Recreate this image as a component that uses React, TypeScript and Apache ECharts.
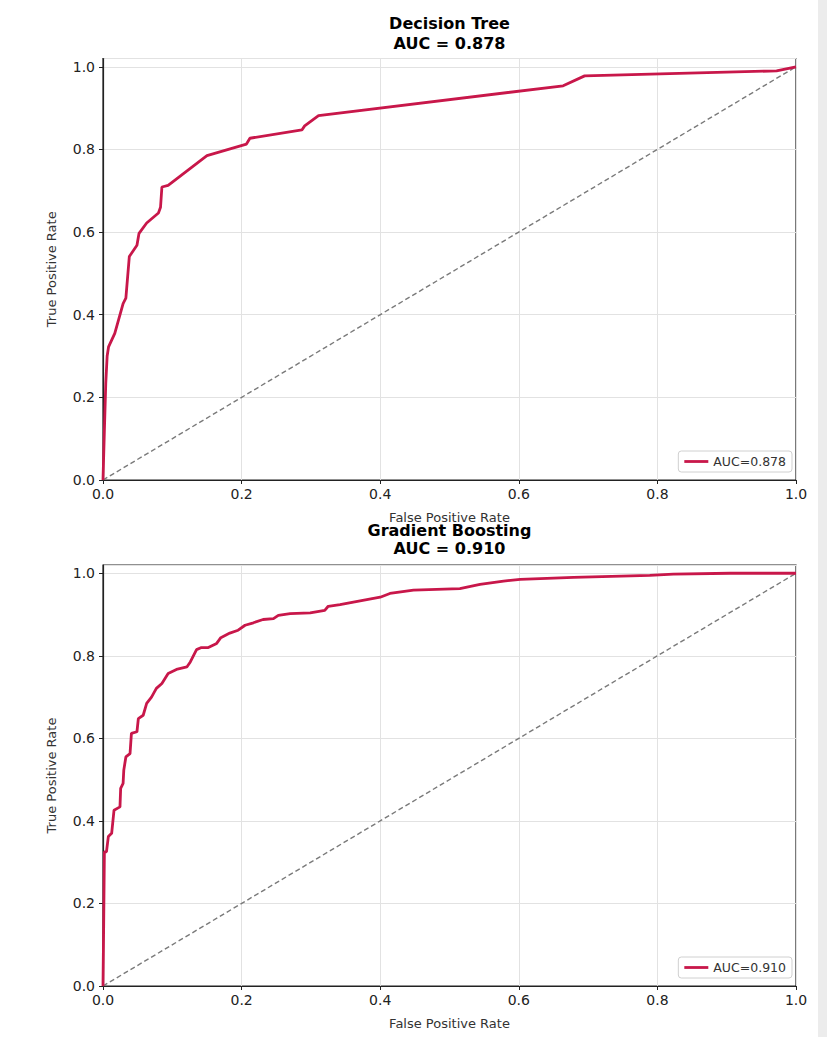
import React, { useEffect, useRef } from "react";
import * as echarts from "echarts";

const xTicks = [0, 0.2, 0.4, 0.6, 0.8, 1.0];

const dtFpr = [0, 0.002, 0.004, 0.006, 0.008, 0.017, 0.029, 0.033, 0.038, 0.049, 0.052, 0.063, 0.080, 0.083, 0.085, 0.094, 0.150, 0.207, 0.212, 0.287, 0.291, 0.311, 0.664, 0.695, 0.972, 1.0];
const dtTpr = [0, 0.12, 0.234, 0.30, 0.322, 0.355, 0.427, 0.44, 0.541, 0.568, 0.597, 0.622, 0.646, 0.66, 0.709, 0.713, 0.785, 0.813, 0.827, 0.847, 0.857, 0.882, 0.954, 0.978, 0.990, 1.0];

const gbFpr = [0, 0.001, 0.002, 0.005, 0.0077, 0.0125, 0.0159, 0.0245, 0.0255, 0.029, 0.030, 0.033, 0.039, 0.041, 0.049, 0.051, 0.058, 0.063, 0.070, 0.077, 0.085, 0.094, 0.106, 0.121, 0.126, 0.135, 0.142, 0.152, 0.164, 0.170, 0.183, 0.195, 0.205, 0.217, 0.231, 0.246, 0.253, 0.270, 0.299, 0.320, 0.325, 0.342, 0.40, 0.414, 0.448, 0.515, 0.544, 0.578, 0.602, 0.679, 0.789, 0.823, 0.905, 1.0];
const gbTpr = [0, 0.152, 0.325, 0.325, 0.362, 0.37, 0.426, 0.434, 0.479, 0.491, 0.523, 0.555, 0.563, 0.612, 0.616, 0.648, 0.656, 0.685, 0.700, 0.721, 0.733, 0.757, 0.767, 0.773, 0.785, 0.815, 0.82, 0.82, 0.83, 0.844, 0.855, 0.862, 0.874, 0.880, 0.888, 0.890, 0.898, 0.902, 0.904, 0.910, 0.920, 0.924, 0.942, 0.951, 0.959, 0.963, 0.973, 0.981, 0.985, 0.99, 0.995, 0.998, 1.0, 1.0];

const diagX = [0, 1];
const diagY = [0, 1];

const models = ["Decision Tree", "Gradient Boosting"];
const aucs = ["0.878", "0.910"];

const CURVE = "#C8174A";
const FONT = "DejaVu Sans";

export default function App() {
  const ref = useRef<HTMLDivElement>(null);
  useEffect(() => {
    document.body.style.margin = "0";
    const chart = echarts.init(ref.current!, null, { renderer: "svg" });
    const zip = (a: number[], b: number[]) => a.map((v, i) => [v, b[i]]);
    const grids = [
      { left: 103, right: 31, top: 58.5, height: 421.5 },
      { left: 103, right: 31, top: 565, height: 421 },
    ];
    const xAxis = grids.map((_, i) => ({
      type: "value",
      gridIndex: i,
      min: 0,
      max: 1,
      interval: 0.2,
      name: "False Positive Rate",
      nameLocation: "middle",
      nameGap: 31,
      nameTextStyle: { fontFamily: FONT, fontSize: 13, color: "#333" },
      axisLine: { show: true, lineStyle: { color: "#222", width: 1.2 } },
      axisTick: { show: true, inside: false, length: 4, lineStyle: { color: "#222" } },
      axisLabel: {
        fontFamily: FONT,
        fontSize: 14,
        color: "#222",
        margin: 7,
        formatter: (v: number) => v.toFixed(1),
      },
      splitLine: { show: true, lineStyle: { color: "#e2e2e2", width: 1 } },
    }));
    const yAxis = grids.map((_, i) => ({
      type: "value",
      gridIndex: i,
      min: 0,
      max: 1.02,
      interval: 0.2,
      name: "True Positive Rate",
      nameLocation: "middle",
      nameGap: 45,
      nameTextStyle: { fontFamily: FONT, fontSize: 13, color: "#333" },
      axisLine: { show: true, lineStyle: { color: "#222", width: 1.2 } },
      axisTick: { show: true, inside: false, length: 4, lineStyle: { color: "#222" } },
      axisLabel: {
        fontFamily: FONT,
        fontSize: 14,
        color: "#222",
        margin: 8,
        showMaxLabel: false,
        formatter: (v: number) => v.toFixed(1),
      },
      splitLine: { show: true, lineStyle: { color: "#e2e2e2", width: 1 } },
    }));
    const curves = [zip(dtFpr, dtTpr), zip(gbFpr, gbTpr)];
    const series: any[] = [];
    curves.forEach((d, i) => {
      series.push({
        type: "line",
        name: "diag" + i,
        xAxisIndex: i,
        yAxisIndex: i,
        data: zip(diagX, diagY),
        symbol: "none",
        lineStyle: { color: "#7a7a7a", width: 1.4, type: [5, 3] },
        silent: true,
      });
      series.push({
        type: "line",
        name: "AUC=" + aucs[i],
        xAxisIndex: i,
        yAxisIndex: i,
        data: d,
        symbol: "none",
        color: CURVE,
        lineStyle: { color: CURVE, width: 2.8 },
      });
    });
    const legends = [451, 957].map((top, i) => ({
      data: [{ name: "AUC=" + aucs[i], icon: "rect" }],
      right: 35,
      top,
      orient: "vertical",
      itemWidth: 24,
      itemHeight: 2.8,
      itemGap: 4,
      padding: [4, 6, 4, 6],
      borderColor: "#d0d0d0",
      borderWidth: 1,
      borderRadius: 3,
      backgroundColor: "rgba(255,255,255,0.85)",
      textStyle: { fontFamily: FONT, fontSize: 12.5, color: "#333" },
      selectedMode: false,
    }));
    const titleY = [[23, 43], [530, 548]];
    const graphic: any[] = [
      { type: "rect", shape: { x: 818, y: 0, width: 9, height: 1037 }, style: { fill: "#ececec" }, silent: true },
    ];
    titleY.forEach((ys, i) => {
      graphic.push({
        type: "text",
        x: 449.5,
        y: ys[0],
        style: { text: models[i], fontFamily: FONT, fontWeight: "bold", fontSize: 16, fill: "#000", textAlign: "center", textVerticalAlign: "middle" },
        z: 100,
      });
      graphic.push({
        type: "text",
        x: 449.5,
        y: ys[1],
        style: { text: "AUC = " + aucs[i], fontFamily: FONT, fontWeight: "bold", fontSize: 16, fill: "#000", textAlign: "center", textVerticalAlign: "middle" },
        z: 100,
      });
    });
    chart.setOption({
      animation: false,
      backgroundColor: "#ffffff",
      grid: grids.map((g) => ({ ...g, show: true, borderColor: "#222", borderWidth: 1.2, backgroundColor: "transparent" })),
      xAxis,
      yAxis,
      legend: legends,
      series,
      graphic,
    });
    return () => chart.dispose();
  }, []);
  return <div ref={ref} style={{ width: 827, height: 1037 }} />;
}
